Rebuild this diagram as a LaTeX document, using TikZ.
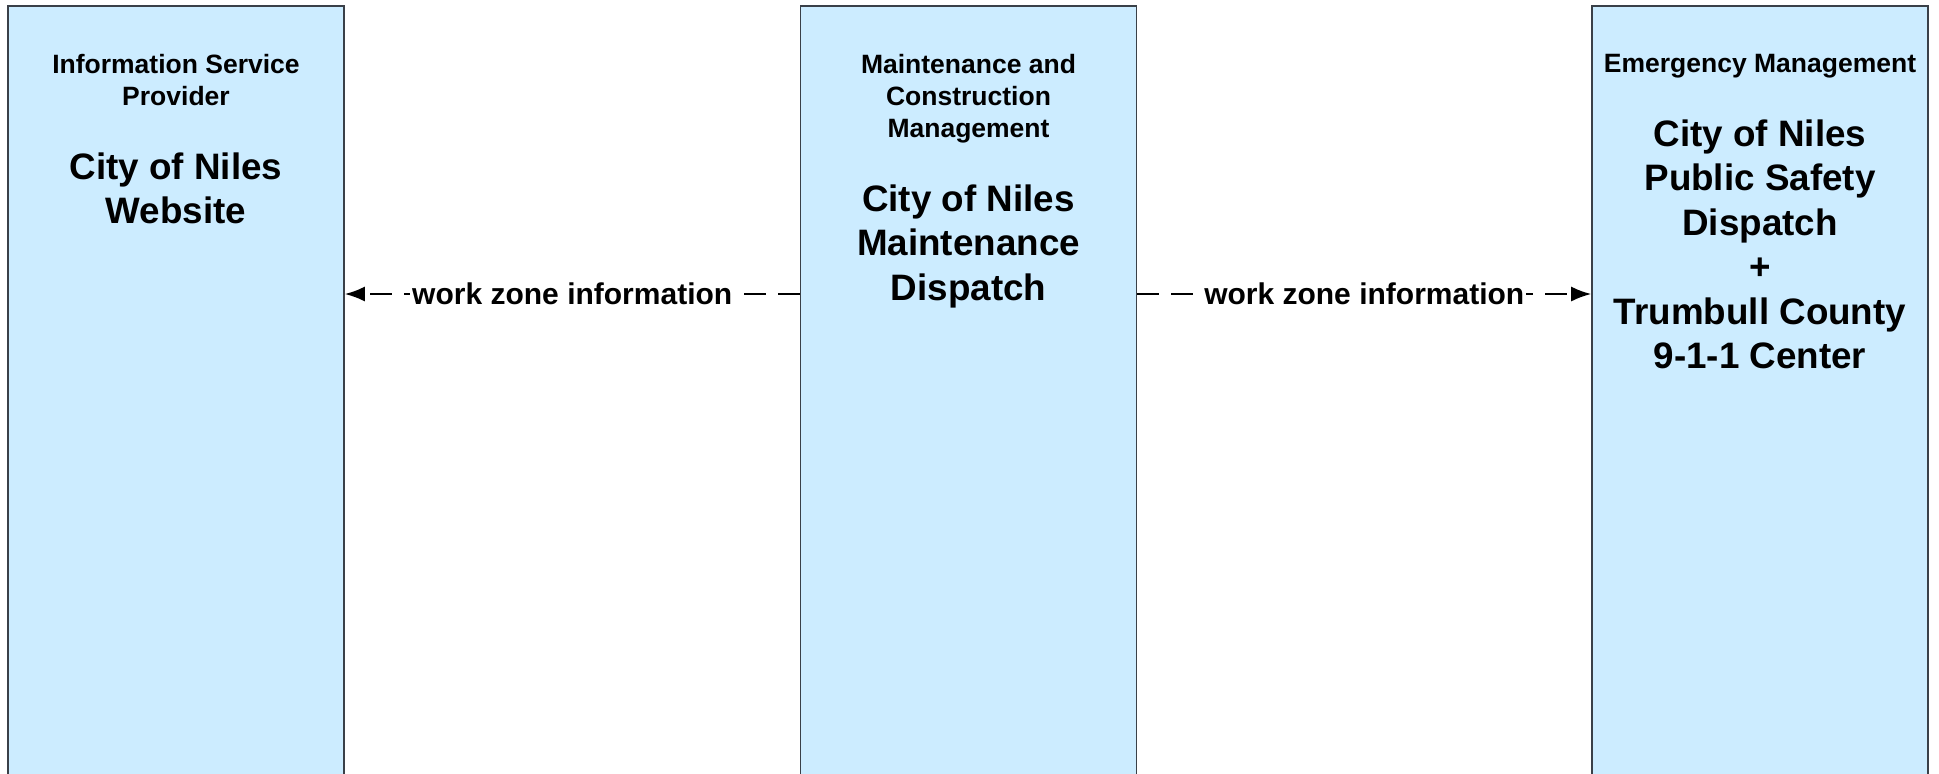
\documentclass[tikz,border=0pt]{standalone}
\usepackage{fontspec}
\setmainfont{Liberation Sans}
\usetikzlibrary{arrows.meta}
\definecolor{boxfill}{HTML}{CCECFF}
\definecolor{boxline}{HTML}{3A4048}
\tikzset{
  elem/.style={draw=boxline, line width=0.8pt, fill=boxfill, anchor=north,
    minimum width=168pt, minimum height=400pt, inner sep=0pt},
  cat/.style={anchor=north, align=center, inner sep=0pt,
    font=\fontsize{13.25}{16}\selectfont\bfseries},
  big/.style={anchor=north, align=center, inner sep=0pt,
    font=\fontsize{18.4}{22.25}\selectfont\bfseries},
  flow/.style={line width=1pt, dash pattern=on 11pt off 6pt,
    -{Latex[length=10pt,width=7.5pt]}},
  flowlabel/.style={fill=white, inner sep=1pt,
    font=\fontsize{15}{18}\selectfont\bfseries}
}
\begin{document}
\begin{tikzpicture}[x=0.5pt,y=-0.5pt]
\useasboundingbox (0,0) rectangle (1939,773);
\clip (0,0) rectangle (1939,773);
\node[elem] (isp) at (176,5) {};
\node[elem] (mcm) at (968.5,5) {};
\node[elem] (em) at (1760,5) {};
\node[cat] (ispcat) at (176,54) {Information Service\\Provider};
\node[big] (ispname) at (176,152) {City of Niles\\Website};
\node[cat] (mcmcat) at (968.5,54) {Maintenance and\\Construction\\Management};
\node[big] (mcmname) at (968.5,184) {City of Niles\\Maintenance\\Dispatch};
\node[cat] (emcat) at (1760,54) {Emergency Management};
\node[big] (emname) at (1760,119) {City of Niles\\Public Safety\\Dispatch\\+\\Trumbull County\\9-1-1 Center};
\coordinate (flowy) at (0,294);
\draw[flow] (mcm.west |- flowy) -- node[flowlabel] (lab1) {work zone information} (isp.east |- flowy);
\draw[flow] (mcm.east |- flowy) -- node[flowlabel] (lab2) {work zone information} (em.west |- flowy);
\end{tikzpicture}
\end{document}
